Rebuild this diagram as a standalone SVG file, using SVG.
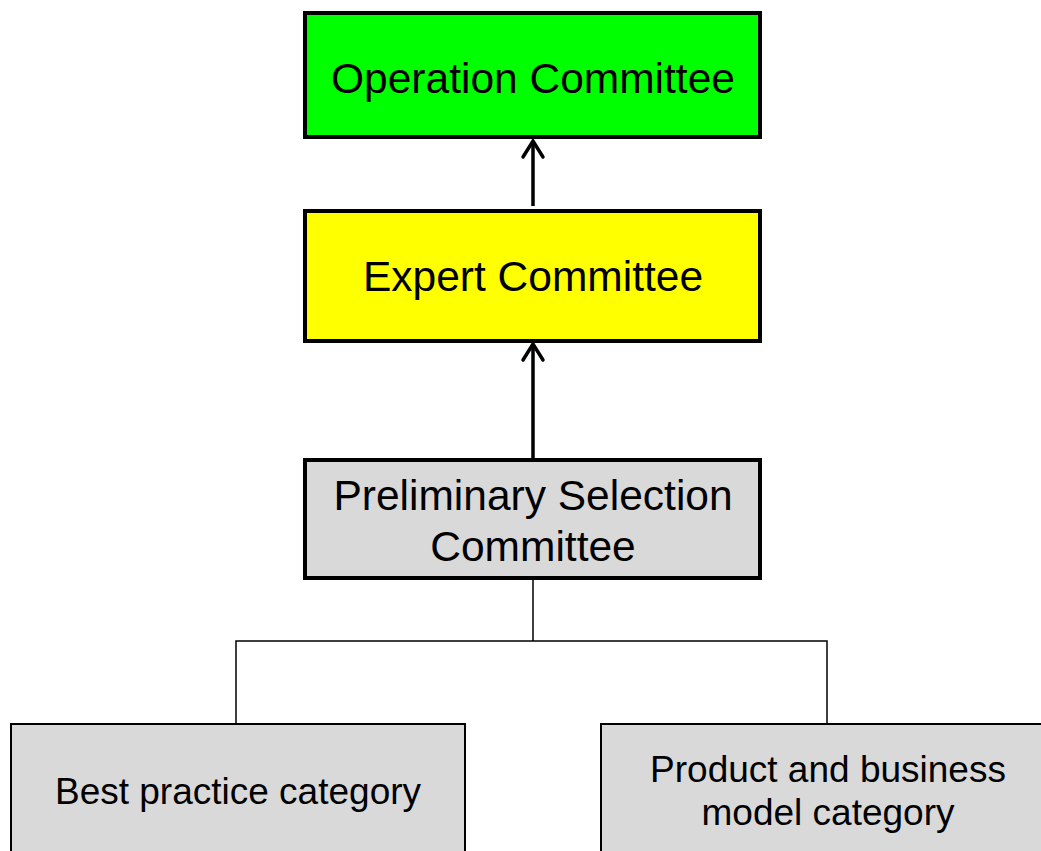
<svg xmlns="http://www.w3.org/2000/svg" width="1041" height="851" viewBox="0 0 1041 851">
<style>
.box{stroke:#000;stroke-width:4}
.sub{stroke:#000;stroke-width:2}
.t{font-family:"Liberation Sans",Arial,sans-serif;fill:#000;text-anchor:middle}
.big{font-size:42.5px}
.small{font-size:37px}
.arrow{stroke:#000;stroke-width:3.5;fill:none}
.head{stroke:#000;stroke-width:3.5;fill:none;stroke-linecap:round;stroke-linejoin:miter}
.thin{stroke:#000;stroke-width:1.5;fill:none}
</style>
<rect width="1041" height="851" fill="#fff"/>
<g id="connectors">
<line class="arrow" x1="533" y1="206" x2="533" y2="141"/>
<path class="head" d="M523,157 L533,141 L543,157"/>
<line class="arrow" x1="533" y1="459" x2="533" y2="344"/>
<path class="head" d="M523,360 L533,344 L543,360"/>
<path class="thin" d="M533,578 V641 M236,723 V641 H827 V723"/>
</g>
<g id="operation">
<rect class="box" x="305" y="13" width="455" height="124" fill="#00ff00"/>
<text class="t big" x="533" y="93">Operation Committee</text>
</g>
<g id="expert">
<rect class="box" x="305" y="211" width="455" height="130" fill="#ffff00"/>
<text class="t big" x="533" y="291">Expert Committee</text>
</g>
<g id="preliminary">
<rect class="box" x="305" y="460" width="455" height="118" fill="#d9d9d9"/>
<text class="t big" x="533" y="510">Preliminary Selection</text>
<text class="t big" x="533" y="561">Committee</text>
</g>
<g id="best">
<rect class="sub" x="11" y="724" width="454" height="160" fill="#d9d9d9"/>
<text class="t small" x="238" y="804">Best practice category</text>
</g>
<g id="product">
<rect class="sub" x="601" y="724" width="460" height="160" fill="#d9d9d9"/>
<text class="t small" x="828" y="782">Product and business</text>
<text class="t small" x="828" y="825">model category</text>
</g>
</svg>
